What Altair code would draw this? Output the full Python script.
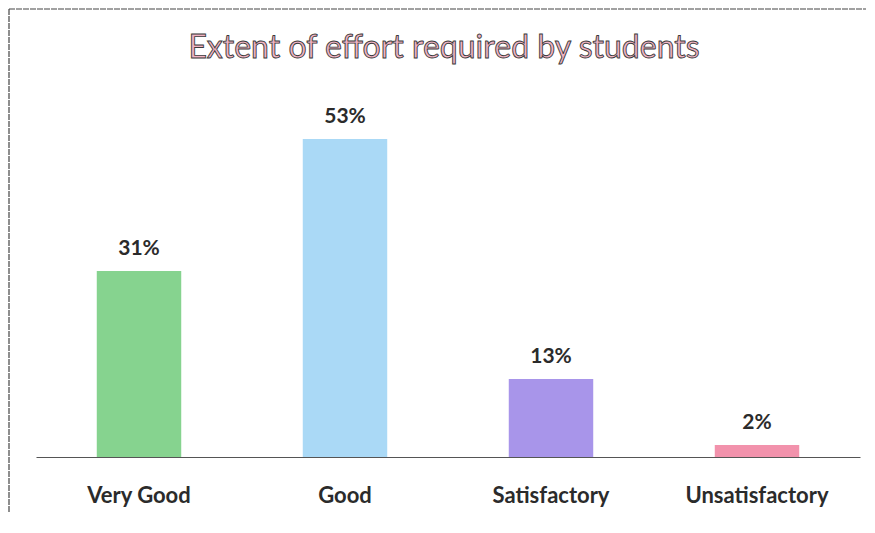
import altair as alt
import pandas as pd

categories = ["Very Good", "Good", "Satisfactory", "Unsatisfactory"]
values = [31, 53, 13, 2]
labels = ["31%", "53%", "13%", "2%"]
colors = ["#86d38f", "#aad9f6", "#a895ea", "#f292ac"]

df = pd.DataFrame({"cat": categories, "val": values, "lab": labels})

x_enc = alt.X("cat:N", sort=categories, title=None,
              scale=alt.Scale(paddingInner=0.59, paddingOuter=0.295),
              axis=alt.Axis(labelAngle=0, labelFont="Lato", labelFontSize=22,
                            labelFontWeight="bold", labelColor="#2b2b2b",
                            labelPadding=28, ticks=False, domainColor="#555555",
                            domainWidth=1.2, grid=False))
y_enc = alt.Y("val:Q", scale=alt.Scale(domain=[0, 60]), axis=None)

bars = alt.Chart(df).mark_bar().encode(
    x=x_enc, y=y_enc,
    color=alt.Color("cat:N", scale=alt.Scale(domain=categories, range=colors), legend=None),
)

text = alt.Chart(df).mark_text(baseline="bottom", dy=-12, font="Lato", fontSize=21,
                               fontWeight="bold", color="#2b2b2b").encode(
    x=alt.X("cat:N", sort=categories), y="val:Q", text="lab:N")

title = alt.Chart(pd.DataFrame({"t": ["Extent of effort required by students"]})).mark_text(
    font="Lato", fontSize=32, fill="#f0b3c3", stroke="#3a3a3a", strokeWidth=0.9,
    baseline="middle", align="center").encode(
    x=alt.value(408), y=alt.value(-49), text="t:N")

frame = pd.DataFrame({"a": [1]})
left_edge = alt.Chart(frame).mark_rule(
    stroke="#444444", strokeWidth=1.2, strokeDash=[6, 1]).encode(
    x=alt.value(-27), y=alt.value(-88), y2=alt.value(420))
top_edge = alt.Chart(frame).mark_rule(
    stroke="#444444", strokeWidth=1.2, strokeDash=[6, 1]).encode(
    x=alt.value(-27), x2=alt.value(830), y=alt.value(-88))

chart = alt.layer(left_edge, top_edge, bars, text, title).properties(
    width=824, height=360,
    autosize=alt.AutoSizeParams(type="none"),
    padding={"left": 28, "top": 89, "right": 7, "bottom": 55},
    background="white",
).configure_view(stroke=None)

chart.save("out.html", embed_options={"renderer": "svg", "actions": False})
